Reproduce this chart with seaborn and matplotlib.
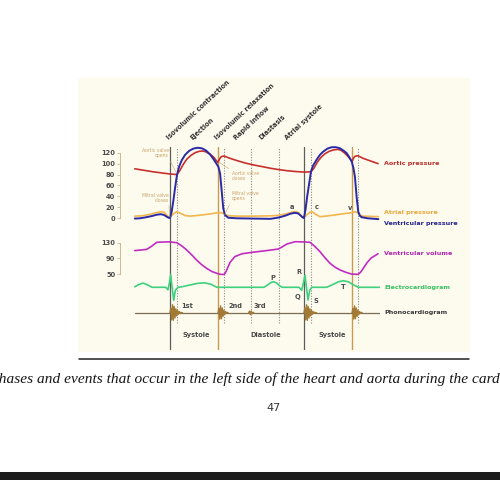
import matplotlib
matplotlib.use("Agg")
import matplotlib.pyplot as plt
from matplotlib.patches import Rectangle
from matplotlib.lines import Line2D
import seaborn as sns

# time in ms, 0 = first mitral valve closure (cycle ~800 ms)
aortic_t = [-210, -150, -100, -50, 0, 42, 60, 80, 100, 125, 150, 175, 195, 215, 240,
            260, 275, 287, 295, 305, 322, 350, 400, 450, 500, 550, 600, 650, 700, 750,
            800, 842, 860, 880, 900, 925, 950, 975, 1000, 1020, 1040, 1060, 1075, 1087,
            1095, 1105, 1122, 1150, 1200, 1242]
aortic_p = [90.5, 87.5, 85, 83, 81, 80, 88, 99, 108, 115, 120, 122.5, 123, 121.5, 117,
            112, 106, 102, 108, 112.5, 114, 110.5, 105.5, 101, 97.5, 94.5, 91.5, 89, 87, 85.5,
            84.5, 85, 92, 103, 111, 118, 122.5, 125, 126, 124.5, 120, 114, 108.5, 104,
            110, 113.5, 114.5, 110, 104.5, 100]

vent_t = [-210, -180, -150, -110, -80, -55, -35, -20, -8, 0, 10, 20, 30, 42, 55,
          70, 90, 115, 140, 165, 190, 215, 240, 260, 275, 289, 299, 308, 318, 328,
          348, 400, 500, 600, 650, 690, 720, 745, 765, 780, 792, 800, 810, 819, 842,
          855, 875, 895, 915, 940, 965, 990, 1015, 1035, 1055, 1070, 1085, 1095, 1104, 1114,
          1124, 1134, 1144, 1180, 1244]
vent_p = [-0.5, 0, 1.5, 4, 6.5, 7.5, 6, 3, 1, 0.5, 12, 32, 55, 80, 95,
          106, 116, 123.5, 127.5, 129, 128, 124, 116.5, 108, 101, 94, 82, 52, 18, 6,
          1, 0, -0.5, -1, 1.5, 5, 8.5, 10, 9, 5, 1.5, 0.5, 18, 40, 86,
          97, 107, 116, 122, 127.5, 130, 130, 128, 124, 119, 112, 103.5, 92, 76, 39.5,
          12, 4.5, 2, 0, -1.5]

atrial_t = [-210, -170, -150, -110, -80, -55, -35, -20, -8, 0, 20, 40, 60, 90, 120,
            160, 200, 240, 270, 300, 320, 335, 355, 400, 500, 600, 650, 690, 720, 745,
            765, 780, 792, 800, 815, 835, 850, 870, 895, 930, 980, 1040, 1080, 1105, 1120,
            1135, 1150, 1200, 1244]
atrial_p = [4, 4.5, 5.5, 8, 10.5, 12, 11, 6, 2.5, 2, 8, 12, 9.5, 5, 4,
            5, 6.5, 8, 9.5, 10.5, 9, 6, 4.5, 4, 4, 4.5, 5.5, 8, 10.5, 12.5,
            11, 6, 2.5, 2, 6, 11, 12, 7, 3, 4, 6, 8.5, 10, 12, 10,
            6, 4, 3.5, 3]

vol_t = [-210, -140, -113, -79, -20, 0, 40, 70, 100, 130, 159, 190, 219, 250, 279,
         299, 324, 332, 340, 358, 388, 430, 488, 577, 647, 672, 697, 746, 800, 836,
         866, 896, 925, 955, 985, 1015, 1050, 1085, 1124, 1135, 1146, 1174, 1200, 1242]
vol_ml = [110, 113, 120, 131, 132, 132, 130, 122, 111.5, 99, 86, 74, 65, 57, 52.5,
          50, 49.5, 55, 62, 80, 95, 102, 105.5, 110, 114, 120, 126.5, 132.5, 132, 131,
          120, 107, 92, 78, 68, 61, 55, 50.5, 50, 54, 60, 78, 91, 102]

ecg_t = [-210, -190, -161, -135, -107, -25, -12, -4, 4, 12, 22, 32, 48, 70, 110,
         160, 205, 245, 280, 560, 580, 600, 617, 635, 655, 670, 770, 786, 796, 806,
         814, 824, 834, 846, 935, 975, 1005, 1035, 1065, 1095, 1124, 1250]
ecg_mv = [0.05, 0.25, 0.42, 0.25, 0, 0, -0.25, 0.4, 1.25, 0.1, -1.3, -0.3, 0, 0.05, 0.2,
          0.38, 0.45, 0.3, 0, 0, 0.2, 0.45, 0.56, 0.45, 0.15, 0, 0, -0.3, 0.4, 1.2,
          0.1, -1.27, -0.3, 0, 0, 0.3, 0.55, 0.66, 0.55, 0.25, 0, 0]

# heart sounds (phonocardiogram bursts)
s1a_t = [0, 5, 10, 15, 20, 25, 30, 35, 40, 45, 50, 55, 60, 65, 70, 75]
s1a_v = [0, 0.6, -0.9, 1.0, -0.95, 0.8, -0.65, 0.5, -0.4, 0.3, -0.2, 0.14, -0.08, 0.05, 0, 0]
s2a_t = [287, 292, 297, 302, 307, 312, 317, 322, 327, 332, 337, 342, 347]
s2a_v = [0, 0.55, -0.8, 0.85, -0.75, 0.6, -0.45, 0.32, -0.22, 0.14, -0.08, 0.04, 0]
s3_t = [470, 475, 480, 485, 490, 495, 500]
s3_v = [0, 0.2, -0.25, 0.2, -0.12, 0.05, 0]
s1b_t = [800, 805, 810, 815, 820, 825, 830, 835, 840, 845, 850, 855, 860, 865, 870, 875]
s1b_v = [0, 0.6, -0.9, 1.0, -0.95, 0.8, -0.65, 0.5, -0.4, 0.3, -0.2, 0.14, -0.08, 0.05, 0, 0]
s2b_t = [1087, 1092, 1097, 1102, 1107, 1112, 1117, 1122, 1127, 1132, 1137, 1142, 1147]
s2b_v = [0, 0.55, -0.8, 0.85, -0.75, 0.6, -0.45, 0.32, -0.22, 0.14, -0.08, 0.04, 0]
phono_base_t = [-210, 1255]
phono_base_v = [0, 0]

mitral_close = [0, 800]
aortic_close = [287, 1087]
dotted_events = [42, 322, 484, 651, 842, 1122]

phase_names = ["Isovolumic contraction", "Ejection", "Isovolumic relaxation",
               "Rapid inflow", "Diastasis", "Atrial systole"]
phase_x = [0, 137, 287, 400, 549, 704]

pressure_ticks = [0, 20, 40, 60, 80, 100, 120]
volume_ticks = [50, 90, 130]

sns.set_style("white")
plt.rcParams["font.family"] = ["DejaVu Sans"]

AORTIC = "#c8302c"
VENT = "#2a2aa6"
ATRIAL = "#f2b64e"
VOL = "#c02cc0"
ECG = "#3ed07e"
TAN = "#c9a46a"
GREY_TXT = "#4a4a4a"

W = H = 500
T_LEFT, T_RIGHT = -298.5, 1253.7


def fx(px):
    return px / W


def fy(py):
    return 1 - py / H


def add_ax(fig, top, bottom):
    ax = fig.add_axes([fx(120), fy(bottom), 260 / W, (bottom - top) / H])
    ax.set_xlim(T_LEFT, T_RIGHT)
    ax.patch.set_alpha(0)
    for s in ax.spines.values():
        s.set_visible(False)
    ax.set_xticks([])
    ax.set_yticks([])
    return ax


def line(ax, x, y, color, lw):
    sns.lineplot(x=x, y=y, ax=ax, color=color, linewidth=lw,
                 estimator=None, sort=False, legend=False)
    ax.set_xlabel("")
    ax.set_ylabel("")


fig = plt.figure(figsize=(5, 5), dpi=100)
fig.patch.set_facecolor("white")

# page decoration
fig.patches.append(Rectangle((fx(78), fy(352)), 392 / W, 274 / H,
                             transform=fig.transFigure, facecolor="#fdfbee",
                             edgecolor="none", zorder=-5))
fig.add_artist(Line2D([fx(79), fx(469)], [fy(359), fy(359)], color="#222222", lw=1.1))
fig.text(fx(-8), fy(379), "phases and events that occur in the left side of the heart and aorta during the cardiac cycle.",
         family="Liberation Serif", style="italic", fontsize=11.1, color="#151515",
         ha="left", va="center")
fig.text(fx(274), fy(408), "47", fontsize=8, color="#333333", ha="center", va="center")
fig.patches.append(Rectangle((0, fy(480)), 1, 8 / H, transform=fig.transFigure,
                             facecolor="#1c1c1c", edgecolor="none"))

# event lines
ax_ev = add_ax(fig, 147, 350)
ax_ev.set_ylim(0, 1)
for t in mitral_close:
    ax_ev.axvline(t, 0, 1, color="#5c5c5c", lw=0.9)
for t in aortic_close:
    ax_ev.axvline(t, 0, 1, color="#c89a50", lw=1.0)
for t in dotted_events:
    ax_ev.axvline(t, 0.133, 1, color="#8a8a8a", lw=0.8, ls=(0, (1, 1.4)))
trans = ax_ev.get_xaxis_transform()
for name, x in zip(phase_names, phase_x):
    ax_ev.text(x, 1.03, name, transform=trans, rotation=43, rotation_mode="anchor",
               ha="left", va="bottom", fontsize=4.7, fontweight="bold", color="#333333")
for name, x in zip(["Systole", "Diastole", "Systole"], [159, 573, 971]):
    ax_ev.text(x, 0.074, name, transform=trans, ha="center", va="center",
               fontsize=4.8, fontweight="bold", color=GREY_TXT)

# pressures
ax_p = add_ax(fig, 146, 222)
ax_p.set_ylim(-6.76, 132.2)
line(ax_p, atrial_t, atrial_p, ATRIAL, 1.2)
line(ax_p, aortic_t, aortic_p, AORTIC, 1.2)
line(ax_p, vent_t, vent_p, VENT, 1.4)
ax_p.spines["left"].set_visible(True)
ax_p.spines["left"].set_color("#cdb890")
ax_p.spines["left"].set_linewidth(0.7)
ax_p.spines["left"].set_bounds(0, 120)
ax_p.set_yticks(pressure_ticks)
ax_p.tick_params(axis="y", left=True, length=2.5, width=0.6, color="#cdb890",
                 labelsize=4.8, labelcolor=GREY_TXT, pad=1)
for lb in ax_p.get_yticklabels():
    lb.set_fontweight("bold")
ax_p.set_ylabel("Pressure (mmHg)", fontsize=4.8, fontweight="bold", color=GREY_TXT)
ax_p.yaxis.set_label_coords(-0.123, 0.52)

ann = dict(fontsize=3.3, color=TAN, linespacing=1.0)
arr = dict(arrowstyle="-", color=TAN, lw=0.4, shrinkA=0, shrinkB=0)
ax_p.annotate("Aortic valve\nopens", xy=(40, 82), xytext=(-8, 119), ha="right", va="center",
              arrowprops=dict(arr, relpos=(1, 0)), **ann)
ax_p.annotate("Mitral valve\ncloses", xy=(0, 2), xytext=(-8, 38), ha="right", va="center",
              arrowprops=dict(arr, relpos=(1, 0)), **ann)
ax_p.annotate("Aortic valve\ncloses", xy=(289, 103), xytext=(370, 78), ha="left", va="center",
              arrowprops=dict(arr, relpos=(0, 1)), **ann)
ax_p.annotate("Mitral valve\nopens", xy=(326, 6), xytext=(370, 40), ha="left", va="center",
              arrowprops=dict(arr, relpos=(0, 0.2)), **ann)
for lab, x, y in zip(["a", "c", "v"], [727, 876, 1075], [21, 21, 18]):
    ax_p.text(x, y, lab, fontsize=4.8, fontweight="bold", color=GREY_TXT, ha="center", va="center")
ax_p.text(1278, 99.3, "Aortic pressure", fontsize=4.6, fontweight="bold", color="#b83030", va="center")
ax_p.text(1278, 11.5, "Atrial pressure", fontsize=4.6, fontweight="bold", color="#e8a83c", va="center")
ax_p.text(1278, -10.4, "Ventricular pressure", fontsize=4.6, fontweight="bold", color="#24248e", va="center")

# volume
ax_v = add_ax(fig, 238, 278)
ax_v.set_ylim(40.6, 141.9)
line(ax_v, vol_t, vol_ml, VOL, 1.2)
ax_v.spines["left"].set_visible(True)
ax_v.spines["left"].set_color("#cdb890")
ax_v.spines["left"].set_linewidth(0.7)
ax_v.spines["left"].set_bounds(50, 130)
ax_v.set_yticks(volume_ticks)
ax_v.tick_params(axis="y", left=True, length=2.5, width=0.6, color="#cdb890",
                 labelsize=4.8, labelcolor=GREY_TXT, pad=1)
for lb in ax_v.get_yticklabels():
    lb.set_fontweight("bold")
ax_v.set_ylabel("Volume (mL)", fontsize=4.8, fontweight="bold", color=GREY_TXT)
ax_v.yaxis.set_label_coords(-0.104, 0.6)
ax_v.text(1278, 101.4, "Ventricular volume", fontsize=4.6, fontweight="bold", color="#b026b0", va="center")

# ECG
ax_e = add_ax(fig, 266, 306)
ax_e.set_ylim(-1.87, 2.13)
line(ax_e, ecg_t, ecg_mv, ECG, 1.2)
for lab, x, y in zip(["P", "R", "Q", "S", "T"], [611, 772, 760, 870, 1035], [0.9, 1.56, -0.94, -1.34, 0.0]):
    ax_e.text(x, y, lab, fontsize=4.8, fontweight="bold", color=GREY_TXT, ha="center", va="center")
ax_e.text(1278, 0, "Electrocardiogram", fontsize=4.6, fontweight="bold", color="#38c060", va="center")

# phonocardiogram
ax_s = add_ax(fig, 300, 326)
ax_s.set_ylim(-1.66, 1.59)
line(ax_s, phono_base_t, phono_base_v, "#7d6d55", 0.9)
for bt, bv in [(s1a_t, s1a_v), (s2a_t, s2a_v), (s3_t, s3_v), (s1b_t, s1b_v), (s2b_t, s2b_v)]:
    line(ax_s, bt, bv, "#a27a35", 1.0)
for lab, x in zip(["1st", "2nd", "3rd"], [100, 388, 537]):
    ax_s.text(x, 0.9, lab, fontsize=4.8, fontweight="bold", color=GREY_TXT, ha="center", va="center")
ax_s.text(1278, 0, "Phonocardiogram", fontsize=4.6, fontweight="bold", color="#3a3a3a", va="center")

fig.savefig("out.png", dpi=100)
